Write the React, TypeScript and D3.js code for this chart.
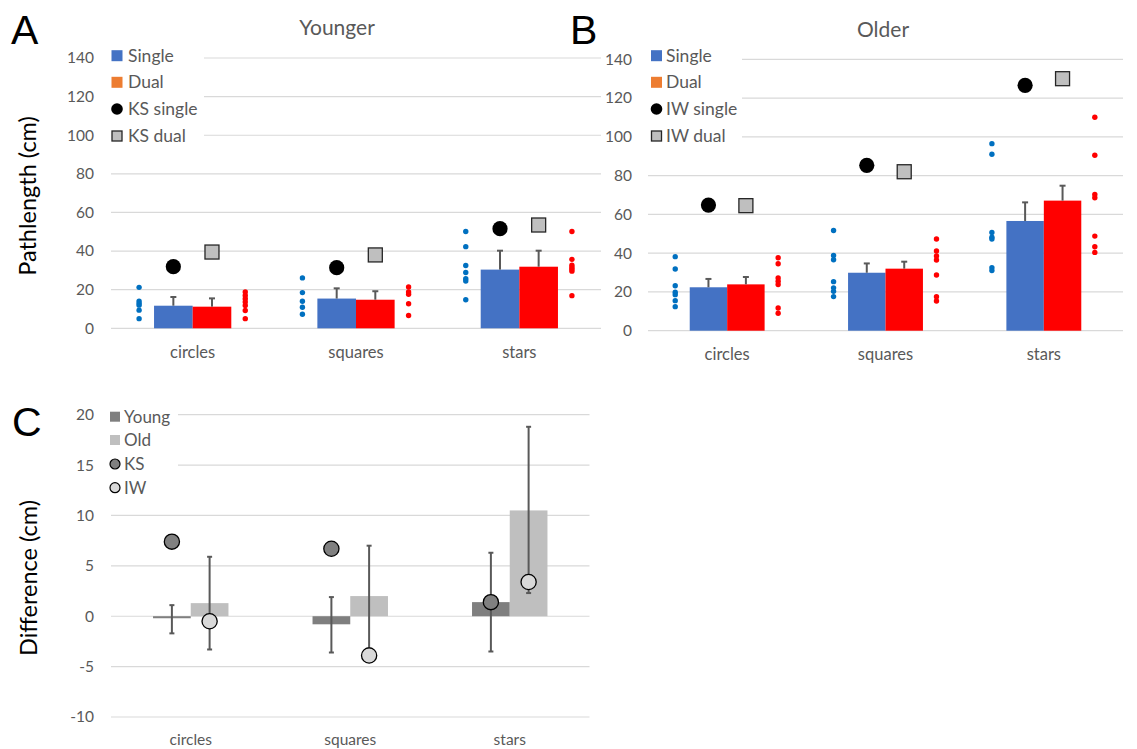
import React from "react";
import * as d3 from "d3";

const categories = ["circles", "squares", "stars"];

// Panel A (Younger)
const youngSingle = [11.7, 15.4, 30.4];
const youngSingleErr = [4.5, 5.3, 9.8];
const youngDual = [11.2, 14.8, 31.9];
const youngDualErr = [4.3, 4.4, 8.3];
const ksSingle = [31.9, 31.4, 51.6];
const ksDual = [39.5, 38.0, 53.5];
const youngSingleDots = [
  [21.2, 14.1, 13.0, 12.0, 9.4, 5.0],
  [26.1, 18.5, 14.0, 10.9, 7.3],
  [50.1, 42.3, 32.5, 28.9, 25.7, 24.5, 14.8],
];
const youngDualDots = [
  [18.8, 17.0, 15.3, 13.6, 11.8, 9.2, 5.0],
  [21.4, 18.8, 17.6, 12.7, 6.6],
  [50.1, 35.7, 32.7, 31.5, 30.6, 29.6, 16.9],
];

// Panel B (Older)
const oldSingle = [22.4, 29.9, 56.6];
const oldSingleErr = [4.3, 4.8, 9.6];
const oldDual = [23.9, 32.0, 67.1];
const oldDualErr = [3.8, 3.6, 7.7];
const iwSingle = [64.8, 85.3, 126.6];
const iwDual = [64.5, 82.0, 130.0];
const oldSingleDots = [
  [38.2, 31.8, 23.2, 19.8, 18.6, 15.5, 12.4],
  [51.7, 38.8, 36.6, 25.3, 22.1, 20.3, 17.6],
  [96.5, 91.0, 50.7, 48.2, 47.3, 32.5, 31.0],
];
const oldDualDots = [
  [37.6, 34.5, 27.2, 25.5, 23.8, 11.7, 9.0],
  [47.3, 41.1, 38.5, 36.5, 28.7, 17.5, 15.3],
  [110.1, 90.5, 70.3, 68.6, 48.8, 43.3, 40.4],
];

// Panel C (Difference)
const diffYoung = [-0.2, -0.8, 1.4];
const diffYoungHi = [1.1, 1.9, 6.3];
const diffYoungLo = [-1.7, -3.6, -3.5];
const diffOld = [1.3, 2.0, 10.5];
const diffOldHi = [5.9, 7.0, 18.8];
const diffOldLo = [-3.3, -3.2, 2.3];
const diffKS = [7.4, 6.7, 1.4];
const diffIW = [-0.5, -3.9, 3.4];

const ticksAB = [0, 20, 40, 60, 80, 100, 120, 140];
const ticksC = [-10, -5, 0, 5, 10, 15, 20];

const FONT = "Lato, 'Open Sans', sans-serif";
const TXT = "#595959";
const GRID = "#d9d9d9";
const BLUE = "#4472c4";
const RED = "#ff0000";
const DOTBLUE = "#0070c0";
const ERR = "#595959";

type PanelProps = {
  x0: number; x1: number; yTop: number; yBot: number;
  single: number[]; singleErr: number[]; dual: number[]; dualErr: number[];
  mSingle: number[]; mDual: number[];
  sDots: number[][]; dDots: number[][];
  labelRight: number; catY: number; legendX: number; legendTextX: number;
  names: string[]; gridSkipX: number;
};

function Panel(p: PanelProps) {
  const y = d3.scaleLinear().domain([0, 140]).range([p.yBot, p.yTop]);
  const pad = 0.527;
  const x = d3.scaleBand<string>().domain(categories).range([p.x0, p.x1]).paddingInner(pad).paddingOuter(pad / 2);
  const g = d3.scaleBand<string>().domain(["s", "d"]).range([0, x.bandwidth()]);
  const step = x.step();
  const legendRows = [55.7, 82.3, 109, 136];
  return (
    <g>
      {ticksAB.map((t) => (
        <g key={t}>
          <line x1={t >= 100 ? p.gridSkipX : p.x0} x2={p.x1} y1={y(t)} y2={y(t)} stroke={GRID} strokeWidth={1.2} />
          <text x={p.labelRight} y={y(t)} dy="0.35em" textAnchor="end" fontSize={15.5} fill={TXT} fontFamily={FONT}>{t}</text>
        </g>
      ))}
      {categories.map((c, i) => {
        const bx = x(c)!;
        const xs = bx + g("s")!;
        const xd = bx + g("d")!;
        const bw = g.bandwidth();
        const cx = bx + x.bandwidth() / 2;
        return (
          <g key={c}>
            <rect x={xs} y={y(p.single[i])} width={bw} height={y(0) - y(p.single[i])} fill={BLUE} />
            <rect x={xd} y={y(p.dual[i])} width={bw} height={y(0) - y(p.dual[i])} fill={RED} />
            <line x1={xs + bw / 2} x2={xs + bw / 2} y1={y(p.single[i])} y2={y(p.single[i] + p.singleErr[i])} stroke={ERR} strokeWidth={2} />
            <line x1={xs + bw / 2 - 3} x2={xs + bw / 2 + 3} y1={y(p.single[i] + p.singleErr[i])} y2={y(p.single[i] + p.singleErr[i])} stroke={ERR} strokeWidth={2} />
            <line x1={xd + bw / 2} x2={xd + bw / 2} y1={y(p.dual[i])} y2={y(p.dual[i] + p.dualErr[i])} stroke={ERR} strokeWidth={2} />
            <line x1={xd + bw / 2 - 3} x2={xd + bw / 2 + 3} y1={y(p.dual[i] + p.dualErr[i])} y2={y(p.dual[i] + p.dualErr[i])} stroke={ERR} strokeWidth={2} />
            {p.sDots[i].map((v, k) => (
              <circle key={"s" + k} cx={cx - 0.328 * step} cy={y(v)} r={2.7} fill={DOTBLUE} />
            ))}
            {p.dDots[i].map((v, k) => (
              <circle key={"d" + k} cx={cx + 0.322 * step} cy={y(v)} r={2.7} fill={RED} />
            ))}
            <circle cx={xs + bw / 2} cy={y(p.mSingle[i])} r={7.6} fill="#000" />
            <rect x={xd + bw / 2 - 7} y={y(p.mDual[i]) - 7} width={14} height={14} fill="#bfbfbf" stroke="#262626" strokeWidth={1.3} />
            <text x={cx} y={p.catY} dy="0.35em" textAnchor="middle" fontSize={16.5} fill={TXT} fontFamily={FONT}>{c}</text>
          </g>
        );
      })}
      {/* legend */}
      <rect x={p.legendX} y={legendRows[0] - 5.5} width={11} height={11} fill={BLUE} />
      <rect x={p.legendX} y={legendRows[1] - 5.5} width={11} height={11} fill="#ed7d31" />
      <circle cx={p.legendX + 5.5} cy={legendRows[2]} r={5.8} fill="#000" />
      <rect x={p.legendX + 0.5} y={legendRows[3] - 5} width={10} height={10} fill="#bfbfbf" stroke="#262626" strokeWidth={1.3} />
      {p.names.map((n, k) => (
        <text key={n} x={p.legendTextX} y={legendRows[k]} dy="0.35em" fontSize={17.5} fill={TXT} fontFamily={FONT}>{n}</text>
      ))}
    </g>
  );
}

function PanelC() {
  const x0 = 111, x1 = 589.5;
  const y = d3.scaleLinear().domain([-10, 20]).range([717, 414.7]);
  const pad = 0.527;
  const x = d3.scaleBand<string>().domain(categories).range([x0, x1]).paddingInner(pad).paddingOuter(pad / 2);
  const g = d3.scaleBand<string>().domain(["y", "o"]).range([0, x.bandwidth()]);
  const bw = g.bandwidth();
  const legendRows = [416.7, 440, 464, 487.7];
  const names = ["Young", "Old", "KS", "IW"];
  const errBar = (cx: number, lo: number, hi: number, key: string) => (
    <g key={key}>
      <line x1={cx} x2={cx} y1={y(lo)} y2={y(hi)} stroke={ERR} strokeWidth={2} />
      <line x1={cx - 2.5} x2={cx + 2.5} y1={y(lo)} y2={y(lo)} stroke={ERR} strokeWidth={2} />
      <line x1={cx - 2.5} x2={cx + 2.5} y1={y(hi)} y2={y(hi)} stroke={ERR} strokeWidth={2} />
    </g>
  );
  return (
    <g>
      {ticksC.map((t) => (
        <g key={t}>
          <line x1={t >= 15 ? 178 : x0} x2={x1} y1={y(t)} y2={y(t)} stroke={GRID} strokeWidth={1.2} />
          <text x={94} y={y(t)} dy="0.35em" textAnchor="end" fontSize={15.5} fill={TXT} fontFamily={FONT}>{t}</text>
        </g>
      ))}
      {categories.map((c, i) => {
        const bx = x(c)!;
        const xy = bx + g("y")!;
        const xo = bx + g("o")!;
        const cx = bx + x.bandwidth() / 2;
        return (
          <g key={c}>
            <rect x={xy} y={Math.min(y(0), y(diffYoung[i]))} width={bw} height={Math.abs(y(diffYoung[i]) - y(0))} fill="#7f7f7f" />
            <rect x={xo} y={Math.min(y(0), y(diffOld[i]))} width={bw} height={Math.abs(y(diffOld[i]) - y(0))} fill="#bfbfbf" />
            {errBar(xy + bw / 2, diffYoungLo[i], diffYoungHi[i], "ey")}
            {errBar(xo + bw / 2, diffOldLo[i], diffOldHi[i], "eo")}
            <circle cx={xy + bw / 2} cy={y(diffKS[i])} r={7.6} fill="#808080" stroke="#000" strokeWidth={1.3} />
            <circle cx={xo + bw / 2} cy={y(diffIW[i])} r={7.6} fill="#d9d9d9" stroke="#000" strokeWidth={1.3} />
            <text x={cx} y={740} dy="0.35em" textAnchor="middle" fontSize={15.5} fill={TXT} fontFamily={FONT}>{c}</text>
          </g>
        );
      })}
      <rect x={110} y={legendRows[0] - 5} width={10} height={10} fill="#7f7f7f" />
      <rect x={110} y={legendRows[1] - 5} width={10} height={10} fill="#bfbfbf" />
      <circle cx={115} cy={legendRows[2]} r={5} fill="#808080" stroke="#000" strokeWidth={1.2} />
      <circle cx={115} cy={legendRows[3]} r={5} fill="#d9d9d9" stroke="#000" strokeWidth={1.2} />
      {names.map((n, k) => (
        <text key={n} x={124} y={legendRows[k]} dy="0.35em" fontSize={17} fill={TXT} fontFamily={FONT}>{n}</text>
      ))}
    </g>
  );
}

export default function App() {
  return (
    <svg width={1137} height={749} style={{ position: "absolute", left: 0, top: 0, background: "#fff" }}>
      <rect width={1137} height={749} fill="#fff" />
      <Panel x0={111} x1={601} yTop={58} yBot={328.3}
        single={youngSingle} singleErr={youngSingleErr} dual={youngDual} dualErr={youngDualErr}
        mSingle={ksSingle} mDual={ksDual} sDots={youngSingleDots} dDots={youngDualDots}
        labelRight={94} catY={352} legendX={111.5} legendTextX={128}
        names={["Single", "Dual", "KS single", "KS dual"]} gridSkipX={204} />
      <Panel x0={648} x1={1123} yTop={59.3} yBot={330.7}
        single={oldSingle} singleErr={oldSingleErr} dual={oldDual} dualErr={oldDualErr}
        mSingle={iwSingle} mDual={iwDual} sDots={oldSingleDots} dDots={oldDualDots}
        labelRight={632} catY={354} legendX={651} legendTextX={666}
        names={["Single", "Dual", "IW single", "IW dual"]} gridSkipX={742} />
      <PanelC />
      <text x={337} y={28} dy="0.35em" textAnchor="middle" fontSize={21} fill={TXT} fontFamily={FONT}>Younger</text>
      <text x={883} y={30} dy="0.35em" textAnchor="middle" fontSize={21} fill={TXT} fontFamily={FONT}>Older</text>
      <text transform="translate(28,196) rotate(-90)" dy="0.35em" textAnchor="middle" fontSize={23.5} fill="#000" fontFamily={FONT}>Pathlength (cm)</text>
      <text transform="translate(29,578) rotate(-90)" dy="0.35em" textAnchor="middle" fontSize={23.5} fill="#000" fontFamily={FONT}>Difference (cm)</text>
      <text x={11} y={44} fontSize={41} fill="#000" fontFamily="'Liberation Sans', Arial, sans-serif">A</text>
      <text x={570} y={44} fontSize={41} fill="#000" fontFamily="'Liberation Sans', Arial, sans-serif">B</text>
      <text x={12} y={436} fontSize={41} fill="#000" fontFamily="'Liberation Sans', Arial, sans-serif">C</text>
    </svg>
  );
}
